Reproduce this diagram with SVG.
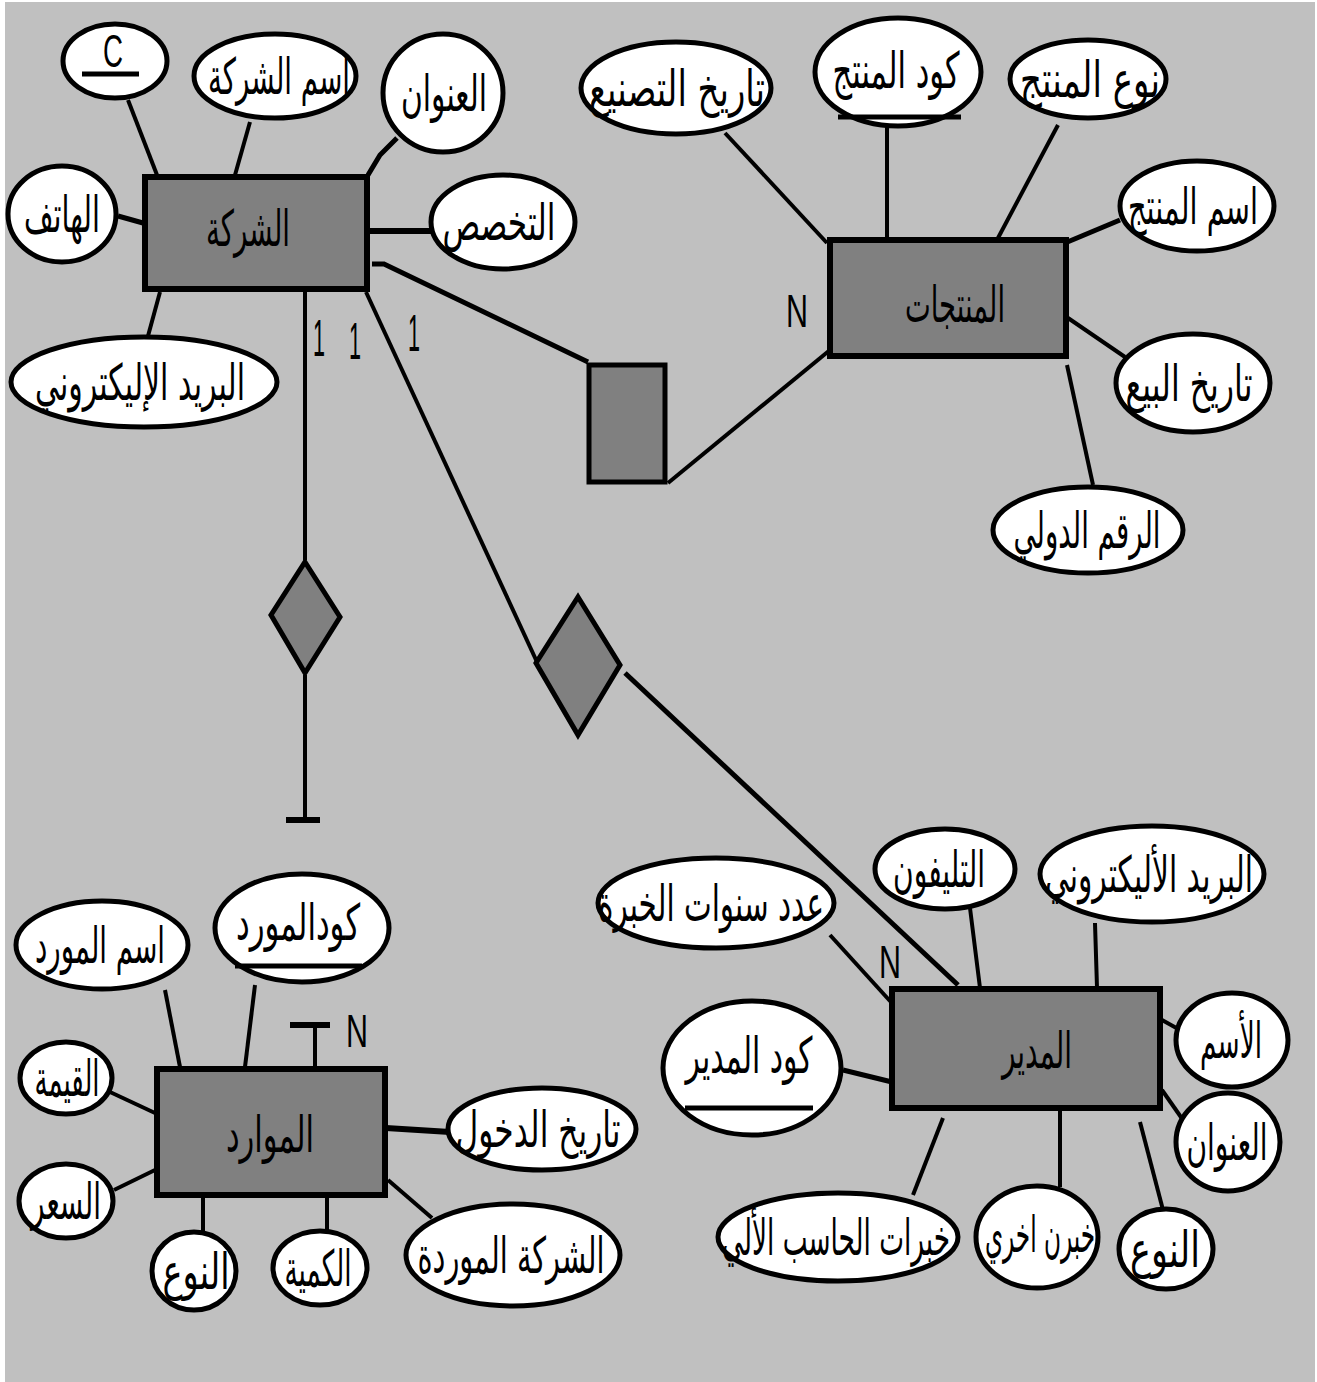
<svg xmlns="http://www.w3.org/2000/svg" width="1317" height="1382" viewBox="0 0 1317 1382">
<style>
.bg{fill:#c0c0c0}
.ent{fill:#808080;stroke:#000;stroke-width:6}
.rel{fill:#808080;stroke:#000;stroke-width:5}
.att{fill:#fff;stroke:#000;stroke-width:5}
.ln{stroke:#000;stroke-width:4;fill:none}
.ul{stroke:#000;stroke-width:5}
.t{font-family:"DejaVu Sans",sans-serif;font-size:50px;text-anchor:middle;fill:#000}
.lbl{font-family:"Liberation Sans Narrow","Liberation Sans",sans-serif;font-size:46px;text-anchor:middle;fill:#000}
.one{font-family:"Liberation Sans Narrow","Liberation Sans",sans-serif;font-size:52px;text-anchor:middle;fill:#000}
</style>
<rect width="1317" height="1382" fill="#fff"/>
<rect class="bg" x="5" y="2" width="1310" height="1380"/>

<g id="connectors">
<!-- الشركة attributes -->
<line class="ln" x1="128" y1="100" x2="157" y2="175"/>
<line class="ln" x1="250" y1="122" x2="235" y2="175"/>
<polyline class="ln" points="397,138 380,155 368,175" style="stroke-width:5"/>
<line class="ln" x1="118" y1="216" x2="143" y2="223" style="stroke-width:5"/>
<line class="ln" x1="368" y1="231" x2="432" y2="231" style="stroke-width:6"/>
<line class="ln" x1="160" y1="292" x2="148" y2="336"/>
<!-- الشركة relationships -->
<polyline class="ln" points="372,264 384,264 588,362" style="stroke-width:5"/>
<line class="ln" x1="305" y1="292" x2="305" y2="560"/>
<line class="ln" x1="305" y1="675" x2="305" y2="820"/>
<line class="ln" x1="286" y1="820" x2="320" y2="820" style="stroke-width:6"/>
<line class="ln" x1="366" y1="292" x2="537" y2="662"/>
<line class="ln" x1="625" y1="673" x2="958" y2="985" style="stroke-width:5"/>
<!-- المنتجات -->
<line class="ln" x1="668" y1="483" x2="830" y2="350"/>
<line class="ln" x1="725" y1="133" x2="827" y2="243"/>
<line class="ln" x1="887" y1="125" x2="887" y2="238"/>
<line class="ln" x1="1058" y1="125" x2="998" y2="238"/>
<line class="ln" x1="1120" y1="220" x2="1065" y2="243" style="stroke-width:5"/>
<line class="ln" x1="1068" y1="318" x2="1125" y2="357"/>
<line class="ln" x1="1067" y1="365" x2="1093" y2="485"/>
<!-- المدير -->
<line class="ln" x1="830" y1="935" x2="900" y2="1012"/>
<line class="ln" x1="970" y1="908" x2="980" y2="988"/>
<line class="ln" x1="1095" y1="923" x2="1097" y2="988"/>
<line class="ln" x1="1162" y1="1020" x2="1180" y2="1030"/>
<line class="ln" x1="1162" y1="1090" x2="1190" y2="1130"/>
<line class="ln" x1="1140" y1="1122" x2="1163" y2="1210"/>
<line class="ln" x1="1060" y1="1110" x2="1060" y2="1187"/>
<line class="ln" x1="943" y1="1118" x2="913" y2="1195"/>
<line class="ln" x1="843" y1="1070" x2="892" y2="1082" style="stroke-width:5"/>
<!-- الموارد -->
<line class="ln" x1="165" y1="990" x2="180" y2="1067"/>
<line class="ln" x1="255" y1="985" x2="245" y2="1067"/>
<line class="ln" x1="315" y1="1067" x2="315" y2="1025"/>
<line class="ln" x1="290" y1="1025" x2="330" y2="1025" style="stroke-width:6"/>
<line class="ln" x1="110" y1="1092" x2="155" y2="1113"/>
<line class="ln" x1="114" y1="1190" x2="155" y2="1170"/>
<line class="ln" x1="203" y1="1197" x2="203" y2="1233"/>
<line class="ln" x1="327" y1="1197" x2="327" y2="1231"/>
<line class="ln" x1="388" y1="1180" x2="432" y2="1218"/>
<line class="ln" x1="386" y1="1128" x2="450" y2="1132" style="stroke-width:6"/>
</g>

<!-- cardinality labels -->
<g id="cardinalities">
<text class="one" x="319" y="356" textLength="12" lengthAdjust="spacingAndGlyphs">1</text>
<text class="one" x="355" y="359" textLength="12" lengthAdjust="spacingAndGlyphs">1</text>
<text class="one" x="414" y="351" textLength="12" lengthAdjust="spacingAndGlyphs">1</text>
<text class="lbl" x="797" y="327" textLength="22" lengthAdjust="spacingAndGlyphs">N</text>
<text class="lbl" x="890" y="978" textLength="22" lengthAdjust="spacingAndGlyphs">N</text>
<text class="lbl" x="357" y="1047" textLength="22" lengthAdjust="spacingAndGlyphs">N</text>
</g>

<!-- الشركة -->
<g id="company">
<rect class="ent" x="145" y="177" width="222" height="112"/>
<text class="t" x="248" y="246" textLength="84" lengthAdjust="spacingAndGlyphs">الشركة</text>
</g>
<g id="company-c">
<ellipse class="att" cx="115" cy="61" rx="52" ry="37"/>
<text class="lbl" x="113" y="67" textLength="20" lengthAdjust="spacingAndGlyphs">C</text>
<line class="ul" x1="82" y1="74" x2="139" y2="74"/>
</g>
<g id="company-name">
<ellipse class="att" cx="275" cy="76" rx="81" ry="42"/>
<text class="t" x="279" y="94" textLength="142" lengthAdjust="spacingAndGlyphs">اسم الشركة</text>
</g>
<g id="company-address">
<ellipse class="att" cx="443" cy="93" rx="60" ry="59"/>
<text class="t" x="444" y="111" textLength="86" lengthAdjust="spacingAndGlyphs">العنوان</text>
</g>
<g id="company-phone">
<ellipse class="att" cx="62" cy="214" rx="54" ry="48"/>
<text class="t" x="62" y="232" textLength="76" lengthAdjust="spacingAndGlyphs">الهاتف</text>
</g>
<g id="company-spec">
<ellipse class="att" cx="503" cy="222" rx="72" ry="47"/>
<text class="t" x="499" y="240" textLength="113" lengthAdjust="spacingAndGlyphs">التخصص</text>
</g>
<g id="company-email">
<ellipse class="att" cx="144" cy="382" rx="133" ry="45"/>
<text class="t" x="140" y="400" textLength="210" lengthAdjust="spacingAndGlyphs">البريد الإليكتروني</text>
</g>

<!-- relationships -->
<g id="rel-products">
<rect class="rel" x="589" y="365" width="76" height="117"/>
</g>
<g id="rel-resources">
<polygon class="rel" points="305,562 340,617 305,673 271,615"/>
</g>
<g id="rel-manager">
<polygon class="rel" points="578,597 620,665 578,735 536,663"/>
</g>

<!-- المنتجات -->
<g id="products">
<rect class="ent" x="830" y="240" width="236" height="116"/>
<text class="t" x="955" y="322" textLength="100" lengthAdjust="spacingAndGlyphs">المنتجات</text>
</g>
<g id="prod-mfg">
<ellipse class="att" cx="676" cy="88" rx="95" ry="46"/>
<text class="t" x="677" y="106" textLength="176" lengthAdjust="spacingAndGlyphs">تاريخ التصنيع</text>
</g>
<g id="prod-code">
<ellipse class="att" cx="898" cy="72" rx="83" ry="54"/>
<text class="t" x="896" y="88" textLength="127" lengthAdjust="spacingAndGlyphs">كود المنتج</text>
<line class="ul" x1="838" y1="117" x2="961" y2="117"/>
</g>
<g id="prod-type">
<ellipse class="att" cx="1088" cy="79" rx="78" ry="39"/>
<text class="t" x="1090" y="97" textLength="140" lengthAdjust="spacingAndGlyphs">نوع المنتج</text>
</g>
<g id="prod-name">
<ellipse class="att" cx="1197" cy="206" rx="77" ry="45"/>
<text class="t" x="1193" y="224" textLength="130" lengthAdjust="spacingAndGlyphs">اسم المنتج</text>
</g>
<g id="prod-sale">
<ellipse class="att" cx="1193" cy="383" rx="77" ry="49"/>
<text class="t" x="1189" y="401" textLength="127" lengthAdjust="spacingAndGlyphs">تاريخ البيع</text>
</g>
<g id="prod-intl">
<ellipse class="att" cx="1088" cy="530" rx="95" ry="43"/>
<text class="t" x="1087" y="548" textLength="147" lengthAdjust="spacingAndGlyphs">الرقم الدولي</text>
</g>

<!-- المدير -->
<g id="manager">
<rect class="ent" x="892" y="989" width="268" height="119"/>
<text class="t" x="1037" y="1068" textLength="70" lengthAdjust="spacingAndGlyphs">المدير</text>
</g>
<g id="mgr-years">
<ellipse class="att" cx="716" cy="903" rx="118" ry="45"/>
<text class="t" x="711" y="921" textLength="226" lengthAdjust="spacingAndGlyphs">عدد سنوات الخبرة</text>
</g>
<g id="mgr-phone">
<ellipse class="att" cx="945" cy="869" rx="70" ry="40"/>
<text class="t" x="939" y="887" textLength="92" lengthAdjust="spacingAndGlyphs">التليفون</text>
</g>
<g id="mgr-email">
<ellipse class="att" cx="1152" cy="874" rx="112" ry="48"/>
<text class="t" x="1149" y="892" textLength="208" lengthAdjust="spacingAndGlyphs">البريد الأليكتروني</text>
</g>
<g id="mgr-name">
<ellipse class="att" cx="1232" cy="1040" rx="56" ry="47"/>
<text class="t" x="1231" y="1058" textLength="62" lengthAdjust="spacingAndGlyphs">الأسم</text>
</g>
<g id="mgr-address">
<ellipse class="att" cx="1228" cy="1142" rx="52" ry="49"/>
<text class="t" x="1227" y="1160" textLength="81" lengthAdjust="spacingAndGlyphs">العنوان</text>
</g>
<g id="mgr-type">
<ellipse class="att" cx="1166" cy="1249" rx="47" ry="40"/>
<text class="t" x="1165" y="1267" textLength="70" lengthAdjust="spacingAndGlyphs">النوع</text>
</g>
<g id="mgr-other">
<ellipse class="att" cx="1037" cy="1237" rx="61" ry="51"/>
<text class="t" x="1040" y="1252" textLength="110" lengthAdjust="spacingAndGlyphs">خبرن اخري</text>
</g>
<g id="mgr-computer">
<ellipse class="att" cx="838" cy="1237" rx="120" ry="44"/>
<text class="t" x="836" y="1255" textLength="228" lengthAdjust="spacingAndGlyphs">خبرات الحاسب الألي</text>
</g>
<g id="mgr-code">
<ellipse class="att" cx="752" cy="1068" rx="89" ry="67"/>
<text class="t" x="749" y="1073" textLength="127" lengthAdjust="spacingAndGlyphs">كود المدير</text>
<line class="ul" x1="685" y1="1108" x2="813" y2="1108"/>
</g>

<!-- الموارد -->
<g id="resources">
<rect class="ent" x="157" y="1069" width="228" height="126"/>
<text class="t" x="270" y="1152" textLength="88" lengthAdjust="spacingAndGlyphs">الموارد</text>
</g>
<g id="res-name">
<ellipse class="att" cx="102" cy="945" rx="86" ry="44"/>
<text class="t" x="100" y="963" textLength="130" lengthAdjust="spacingAndGlyphs">اسم المورد</text>
</g>
<g id="res-code">
<ellipse class="att" cx="302" cy="928" rx="87" ry="54"/>
<text class="t" x="298" y="940" textLength="124" lengthAdjust="spacingAndGlyphs">كودالمورد</text>
<line class="ul" x1="235" y1="966" x2="362" y2="966"/>
</g>
<g id="res-value">
<ellipse class="att" cx="66" cy="1078" rx="46" ry="36"/>
<text class="t" x="67" y="1096" textLength="65" lengthAdjust="spacingAndGlyphs">القيمة</text>
</g>
<g id="res-price">
<ellipse class="att" cx="66" cy="1201" rx="47" ry="37"/>
<text class="t" x="66" y="1219" textLength="70" lengthAdjust="spacingAndGlyphs">السعر</text>
</g>
<g id="res-type">
<ellipse class="att" cx="194" cy="1271" rx="42" ry="39"/>
<text class="t" x="196" y="1289" textLength="67" lengthAdjust="spacingAndGlyphs">النوع</text>
</g>
<g id="res-qty">
<ellipse class="att" cx="320" cy="1268" rx="47" ry="37"/>
<text class="t" x="318" y="1286" textLength="67" lengthAdjust="spacingAndGlyphs">الكمية</text>
</g>
<g id="res-supplier">
<ellipse class="att" cx="513" cy="1255" rx="107" ry="51"/>
<text class="t" x="511" y="1273" textLength="187" lengthAdjust="spacingAndGlyphs">الشركة الموردة</text>
</g>
<g id="res-entry">
<ellipse class="att" cx="542" cy="1129" rx="94" ry="41"/>
<text class="t" x="538" y="1147" textLength="165" lengthAdjust="spacingAndGlyphs">تاريخ الدخول</text>
</g>
</svg>
